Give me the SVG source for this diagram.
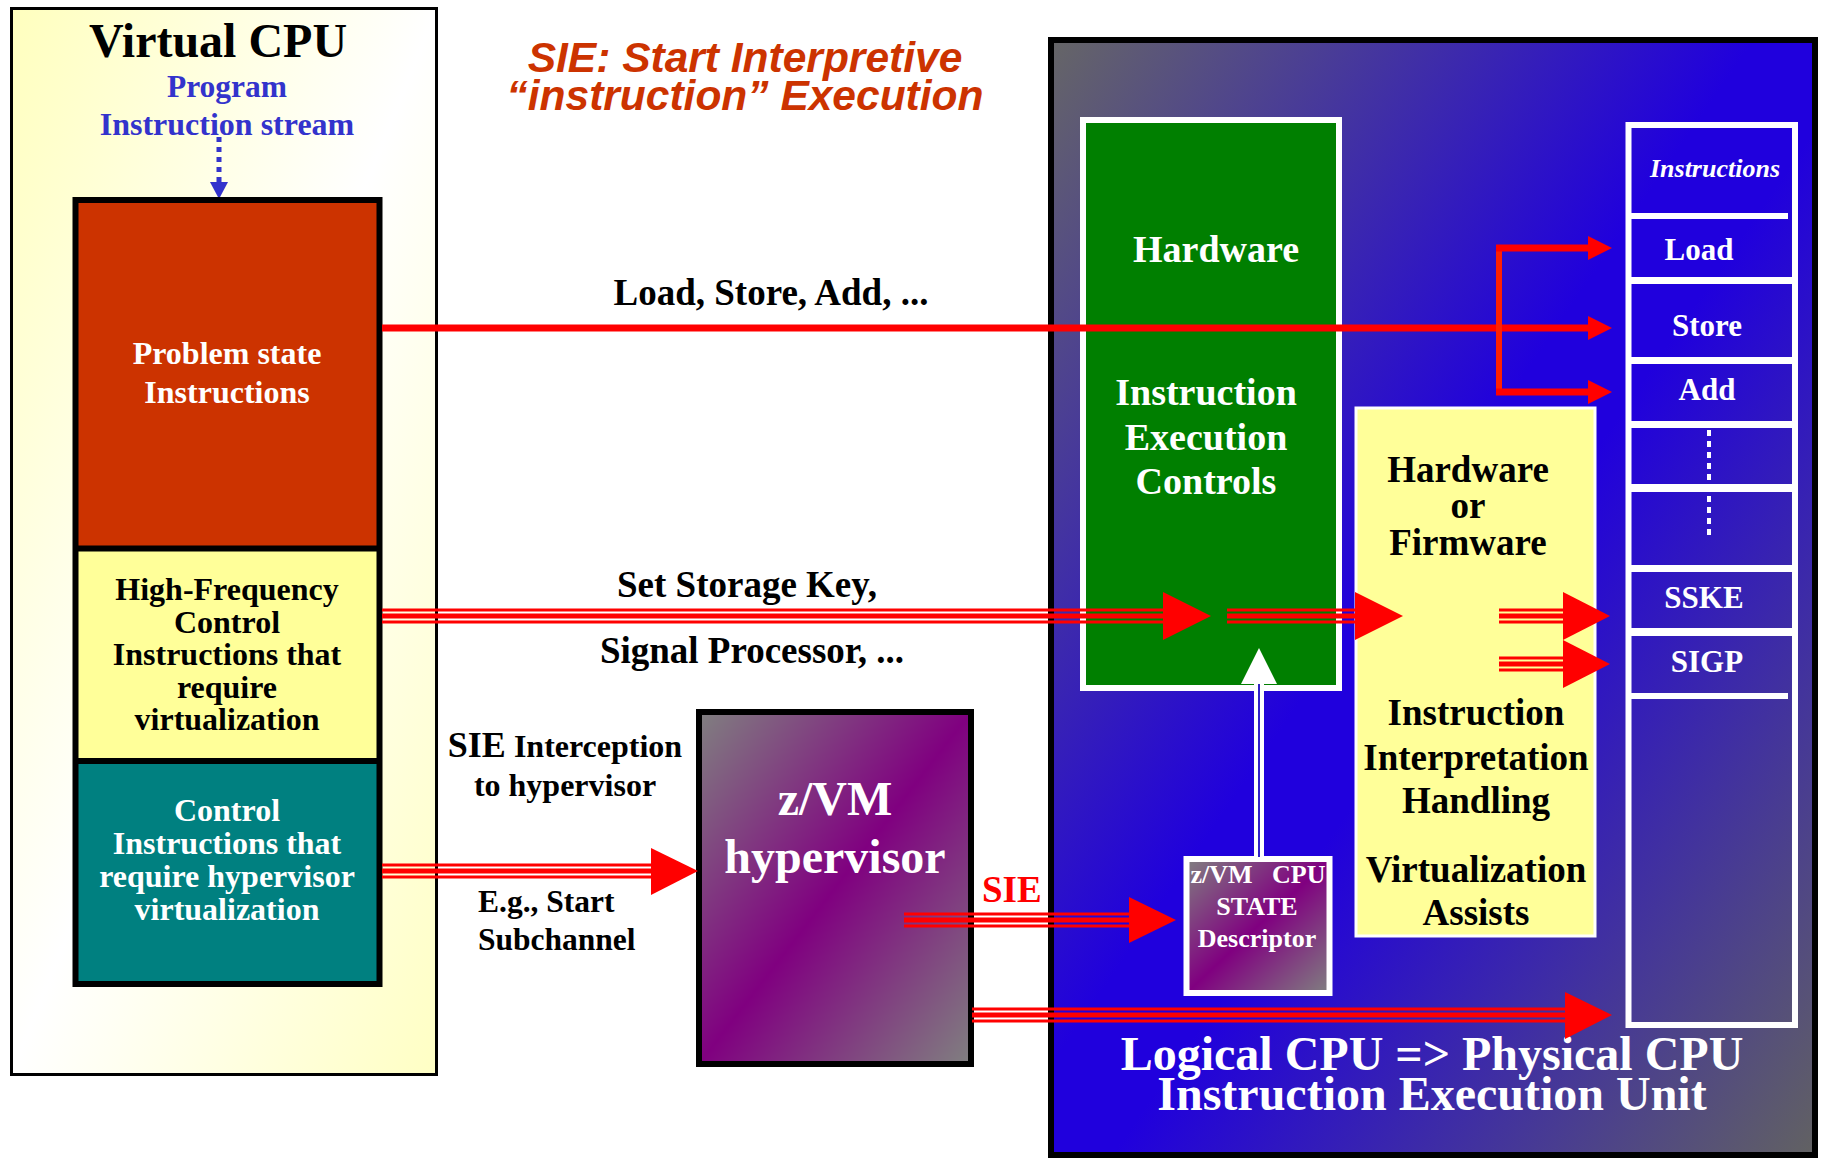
<svg xmlns="http://www.w3.org/2000/svg" width="1822" height="1160" viewBox="0 0 1822 1160">
<defs>
<linearGradient id="vcpuGrad" x1="0" y1="0" x2="1" y2="1">
<stop offset="0" stop-color="#ffffbe"/>
<stop offset="0.5" stop-color="#ffffff"/>
<stop offset="1" stop-color="#ffffc4"/>
</linearGradient>
<linearGradient id="panelGrad" x1="0" y1="0" x2="1" y2="1">
<stop offset="0" stop-color="#666666"/>
<stop offset="0.46" stop-color="#2000dd"/>
<stop offset="0.54" stop-color="#2000dd"/>
<stop offset="1" stop-color="#626262"/>
</linearGradient>
<linearGradient id="purpleGrad" x1="0" y1="0" x2="1" y2="1">
<stop offset="0" stop-color="#808080"/>
<stop offset="0.5" stop-color="#800080"/>
<stop offset="1" stop-color="#808080"/>
</linearGradient>
<style>
.s{font-family:"Liberation Serif","Times New Roman",serif;font-weight:bold}
.w{fill:#ffffff}
.k{fill:#000000}
.r{fill:#ff0000}
.ah{fill:#ff0000}
.t{fill:#ff0000}
</style>
</defs>

<!-- Title -->
<g id="title" font-family="'Liberation Sans',Arial,sans-serif" font-weight="bold" font-style="italic" font-size="42.5" fill="#cc3300" text-anchor="middle">
<text x="745" y="72">SIE: Start Interpretive</text>
<text x="745" y="110">“instruction” Execution</text>
</g>

<!-- Virtual CPU panel -->
<g id="virtual-cpu">
<rect x="11.5" y="8.5" width="425" height="1066" fill="url(#vcpuGrad)" stroke="#000" stroke-width="3"/>
<text class="s k" x="218" y="57" font-size="48" text-anchor="middle">Virtual CPU</text>
<text class="s" x="227" y="97" font-size="31.5" fill="#3333cc" text-anchor="middle">Program</text>
<text class="s" x="227" y="135" font-size="32" fill="#3333cc" text-anchor="middle">Instruction stream</text>
<line x1="219" y1="137" x2="219" y2="182" stroke="#3333cc" stroke-width="5" stroke-dasharray="5 5"/>
<polygon points="210,182 228,182 219,199" fill="#3333cc"/>
</g>

<g id="problem-state">
<rect x="75.5" y="200" width="304" height="348.5" fill="#cc3300"/>
<text class="s w" x="227" y="364" font-size="32" text-anchor="middle">Problem state</text>
<text class="s w" x="227" y="403" font-size="32" text-anchor="middle">Instructions</text>
</g>
<g id="high-frequency">
<rect x="75.5" y="548.5" width="304" height="212.5" fill="#ffff99"/>
<g class="s k" font-size="32" text-anchor="middle">
<text x="227" y="600">High-Frequency</text>
<text x="227" y="632.5">Control</text>
<text x="227" y="665">Instructions that</text>
<text x="227" y="697.5">require</text>
<text x="227" y="730">virtualization</text>
</g>
</g>
<g id="control-hyp">
<rect x="75.5" y="761" width="304" height="223" fill="#008080"/>
<g class="s w" font-size="32" text-anchor="middle">
<text x="227" y="821">Control</text>
<text x="227" y="854">Instructions that</text>
<text x="227" y="887">require hypervisor</text>
<text x="227" y="920">virtualization</text>
</g>
</g>
<g id="column-outline" fill="none" stroke="#000" stroke-width="6">
<rect x="75.5" y="200" width="304" height="784"/>
<line x1="75.5" y1="548.5" x2="379.5" y2="548.5"/>
<line x1="75.5" y1="761" x2="379.5" y2="761"/>
</g>

<!-- Right panel -->
<g id="physical-cpu">
<rect x="1051" y="40" width="764" height="1115" fill="url(#panelGrad)" stroke="#000" stroke-width="6"/>
<text class="s w" x="1432" y="1070" font-size="48" text-anchor="middle">Logical CPU =&gt; Physical CPU</text>
<text class="s w" x="1432" y="1110" font-size="48" text-anchor="middle">Instruction Execution Unit</text>
</g>

<g id="hardware">
<rect x="1083" y="120" width="256" height="568" fill="#007f00" stroke="#fff" stroke-width="6"/>
<text class="s w" x="1216" y="262" font-size="38" text-anchor="middle">Hardware</text>
<text class="s w" x="1206" y="405" font-size="38" text-anchor="middle">Instruction</text>
<text class="s w" x="1206" y="450" font-size="38" text-anchor="middle">Execution</text>
<text class="s w" x="1206" y="494" font-size="38" text-anchor="middle">Controls</text>
</g>

<g id="firmware">
<rect x="1356" y="408" width="239" height="528" fill="#ffff99" stroke="#fff" stroke-width="3"/>
<g class="s k" font-size="37" text-anchor="middle">
<text x="1468" y="482">Hardware</text>
<text x="1468" y="518">or</text>
<text x="1468" y="555">Firmware</text>
<text x="1476" y="725">Instruction</text>
<text x="1476" y="770">Interpretation</text>
<text x="1476" y="813">Handling</text>
<text x="1476" y="882">Virtualization</text>
<text x="1476" y="925">Assists</text>
</g>
</g>

<g id="instructions">
<rect x="1628.5" y="125" width="166.5" height="900" fill="none" stroke="#fff" stroke-width="6"/>
<g class="w">
<rect x="1631" y="213" width="157" height="6"/>
<rect x="1631" y="277" width="161" height="7"/>
<rect x="1631" y="357" width="161" height="7"/>
<rect x="1631" y="421" width="161" height="7"/>
<rect x="1631" y="484" width="161" height="8"/>
<rect x="1631" y="565" width="161" height="7"/>
<rect x="1631" y="628" width="161" height="8"/>
<rect x="1631" y="693" width="157" height="6"/>
</g>
<text class="s w" x="1715" y="177" font-size="26" font-style="italic" text-anchor="middle">Instructions</text>
<g class="s w" font-size="31" text-anchor="middle">
<text x="1699" y="260">Load</text>
<text x="1707" y="336">Store</text>
<text x="1707" y="400">Add</text>
<text x="1704" y="608">SSKE</text>
<text x="1707" y="672">SIGP</text>
</g>
<line x1="1709" y1="430" x2="1709" y2="536" stroke="#fff" stroke-width="4" stroke-dasharray="6 5"/>
</g>

<g id="hypervisor">
<rect x="699" y="712" width="272" height="352" fill="url(#purpleGrad)" stroke="#000" stroke-width="6"/>
<text class="s w" x="835" y="815" font-size="48" text-anchor="middle">z/VM</text>
<text class="s w" x="835" y="873" font-size="48" text-anchor="middle">hypervisor</text>
</g>

<g id="state-descriptor">
<rect x="1186.5" y="859" width="143" height="134" fill="url(#purpleGrad)" stroke="#fff" stroke-width="6"/>
<text class="s w" x="1258" y="883" font-size="26" text-anchor="middle" xml:space="preserve" style="white-space:pre">z/VM   CPU</text>
<text class="s w" x="1257" y="915" font-size="26" text-anchor="middle">STATE</text>
<text class="s w" x="1257" y="947" font-size="26" text-anchor="middle">Descriptor</text>
</g>

<!-- Connectors -->
<g id="connectors">
<rect class="r" x="382" y="324.5" width="1207" height="7"/>
<polygon class="ah" points="1588,316 1612,328 1588,340"/>
<rect x="1496" y="245" width="6" height="150" fill="#ff2000"/>
<rect class="r" x="1496" y="244.5" width="93" height="7"/>
<polygon class="ah" points="1588,236 1612,248 1588,260"/>
<rect class="r" x="1496" y="388.5" width="93" height="7"/>
<polygon class="ah" points="1588,380 1612,392 1588,404"/>

<g class="t">
<rect x="382" y="608.5" width="783" height="3"/><rect x="382" y="613.5" width="783" height="5"/><rect x="382" y="620.5" width="783" height="3"/>
<polygon points="1163,592 1211,616 1163,640"/>
<rect x="1227" y="608.5" width="130" height="3"/><rect x="1227" y="613.5" width="130" height="5"/><rect x="1227" y="620.5" width="130" height="3"/>
<polygon points="1355,592 1403,616 1355,640"/>
<rect x="1499" y="608.5" width="66" height="3"/><rect x="1499" y="613.5" width="66" height="5"/><rect x="1499" y="620.5" width="66" height="3"/>
<polygon points="1563,592 1610,616 1563,640"/>
<rect x="1499" y="656.5" width="66" height="3"/><rect x="1499" y="661.5" width="66" height="5"/><rect x="1499" y="668.5" width="66" height="3"/>
<polygon points="1563,640 1610,664 1563,688"/>

<rect x="382" y="863.5" width="271" height="3"/><rect x="382" y="868.5" width="271" height="5"/><rect x="382" y="875.5" width="271" height="3"/>
<polygon points="651,848 698,871 651,895"/>

<rect x="904" y="912.5" width="227" height="3"/><rect x="904" y="917.5" width="227" height="5"/><rect x="904" y="924.5" width="227" height="3"/>
<polygon points="1129,897 1176,920 1129,943"/>

<rect x="972" y="1007.5" width="594" height="3"/><rect x="972" y="1012.5" width="594" height="5"/><rect x="972" y="1019.5" width="594" height="3"/>
<polygon points="1565,992 1612,1015 1565,1039"/>
</g>

<rect x="1254" y="683" width="10" height="174" fill="#fff"/>
<rect x="1258" y="683" width="2" height="174" fill="#3020c8"/>
<polygon points="1259,648 1277,684 1241,684" fill="#fff"/>
</g>

<!-- Labels -->
<g id="labels" class="s k" font-size="37">
<text x="771" y="305" text-anchor="middle">Load, Store, Add, ...</text>
<text x="747" y="597" text-anchor="middle">Set Storage Key,</text>
<text x="752" y="663" text-anchor="middle">Signal Processor, ...</text>
<text x="565" y="757" font-size="32" text-anchor="middle"><tspan font-size="36">SIE</tspan> Interception</text>
<text x="565" y="796" font-size="32" text-anchor="middle">to hypervisor</text>
<text x="478" y="912" font-size="31.5">E.g., Start</text>
<text x="478" y="950" font-size="31.5">Subchannel</text>
<text x="982" y="902" font-size="37" fill="#ff0000">SIE</text>
</g>
</svg>
